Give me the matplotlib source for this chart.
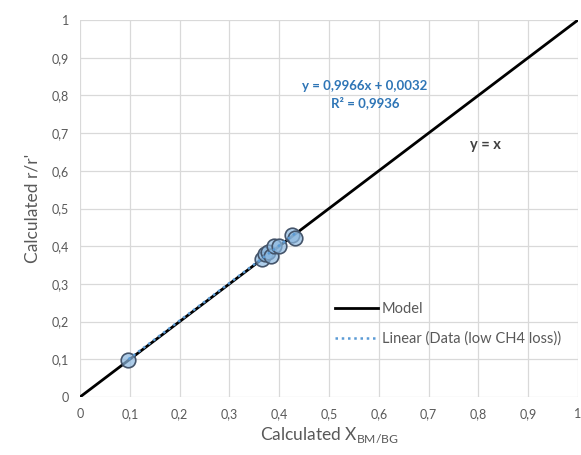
import matplotlib
matplotlib.use("Agg")
import matplotlib.pyplot as plt
import numpy as np

plt.rcParams['font.family'] = ['Lato', 'DejaVu Sans']

x_data = [0.097, 0.365, 0.372, 0.378, 0.383, 0.39, 0.40, 0.425, 0.432]
y_data = [0.097, 0.366, 0.380, 0.385, 0.375, 0.400, 0.400, 0.430, 0.421]
model_x = [0, 1]
model_y = [0, 1]
slope, intercept = 0.9966, 0.0032
ticks = [0, 0.1, 0.2, 0.3, 0.4, 0.5, 0.6, 0.7, 0.8, 0.9, 1.0]
tick_labels = ['0', '0,1', '0,2', '0,3', '0,4', '0,5', '0,6', '0,7', '0,8', '0,9', '1']

fig = plt.figure(figsize=(5.81, 4.55), dpi=100)
ax = fig.add_axes([80/581, 58/455, 498/581, 377/455])

ax.set_xlim(0, 1)
ax.set_ylim(0, 1)
ax.set_xticks(ticks)
ax.set_yticks(ticks)
ax.set_xticklabels(tick_labels)
ax.set_yticklabels(tick_labels)
ax.grid(True, color='#D9D9D9', linewidth=0.9)
ax.set_axisbelow(True)
for s in ax.spines.values():
    s.set_visible(False)
ax.tick_params(length=0, colors='#595959', labelsize=9, pad=8)

ax.plot(model_x, model_y, color='black', linewidth=2, label='Model', zorder=2)
ax.scatter(x_data, y_data, s=110, facecolor=(0.55, 0.72, 0.88, 0.7),
           edgecolor='#44546A', linewidth=1.2, zorder=3)
tx = np.array([min(x_data), max(x_data)])
ax.plot(tx, slope * tx + intercept, color='#5B9BD5', linestyle=(0, (1, 1.5)),
        linewidth=1.8, label='Linear (Data (low CH4 loss))', zorder=4)

ax.text(0.572, 0.826, 'y = 0,9966x + 0,0032', color='#2E75B6', fontsize=9.5,
        fontweight='bold', ha='center', va='center')
ax.text(0.572, 0.781, 'R² = 0,9936', color='#2E75B6', fontsize=9.5,
        fontweight='bold', ha='center', va='center')
ax.text(0.815, 0.668, 'y = x', color='#404040', fontsize=10.5,
        fontweight='bold', ha='center', va='center')

ax.legend(loc='center left', bbox_to_anchor=(0.485, 0.194), frameon=False,
          fontsize=10.5, labelcolor='#595959', handlelength=2.95,
          labelspacing=1.05, handletextpad=0.27)

ax.set_xlabel('Calculated X$_{\\mathregular{BM/BG}}$', color='#595959', fontsize=12.5, labelpad=4)
ax.set_ylabel("Calculated r/r'", color='#595959', fontsize=12.5, labelpad=8)

fig.savefig('out.png', dpi=100)
